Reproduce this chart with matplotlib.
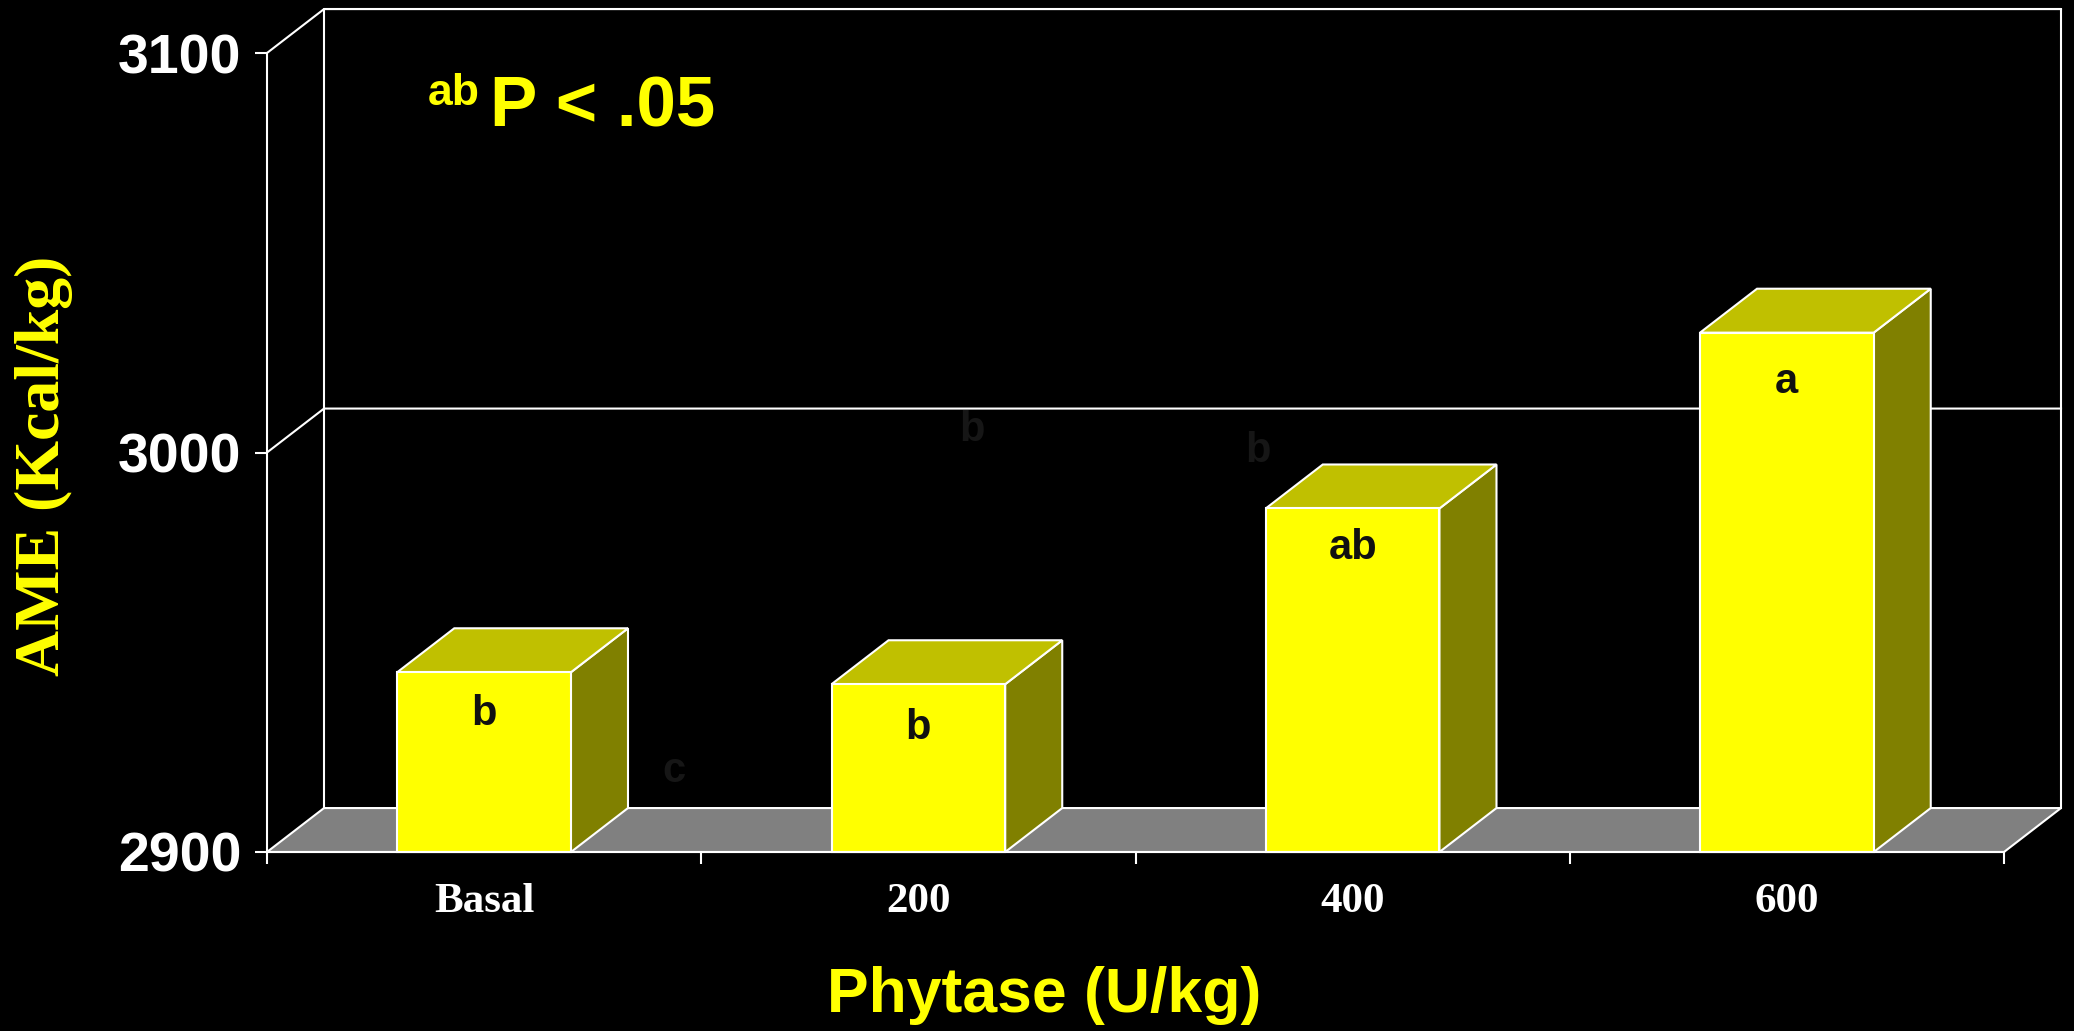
import matplotlib
matplotlib.use("Agg")
import matplotlib.pyplot as plt
from matplotlib.patches import Polygon

# ---------------- data ----------------
categories = ["Basal", "200", "400", "600"]
ame_values = [2945, 2942, 2986, 3030]
sig_letters = ["b", "b", "ab", "a"]
sig_letter_y = [2931.8, 2928.3, 2973.3, 3014.9]
ghost_letters = ["c", "b", "b"]
ghost_x = [0.938, 1.624, 2.281]
ghost_y = [2917.5, 3002.9, 2997.7]
ytick_values = [2900, 3000, 3100]
ytick_labels = ["2900", "3000", "3100"]

# ---------------- style ----------------
W, H, DPI = 2074, 1031, 100
SANS = "Liberation Sans"
SERIF = "Liberation Serif"
YMIN, YMAX = 2900, 3100
DDX, DDY = 0.1313, 11.0          # depth offset in data units
BAR_W = 0.40
LW = 1.5
FRONT, TOP, SIDE = "#FFFF00", "#C0C000", "#808000"
FLOOR = "#808080"

fig = plt.figure(figsize=(W / DPI, H / DPI), dpi=DPI, facecolor="black")
ax = fig.add_axes([267 / W, (H - 852) / H, (2004 - 267) / W, (852 - 53) / H])
ax.set_facecolor("none")
n = len(categories)
ax.set_xlim(0, n)
ax.set_ylim(YMIN, YMAX)

# floor
floor = Polygon([(0, YMIN), (n, YMIN), (n + DDX, YMIN + DDY), (DDX, YMIN + DDY)],
                closed=True, facecolor=FLOOR, edgecolor="white", lw=LW,
                clip_on=False, zorder=1)
ax.add_patch(floor)

# back wall outline and gridlines
ax.plot([DDX, DDX, n + DDX, n + DDX], [YMIN + DDY, YMAX + DDY, YMAX + DDY, YMIN + DDY],
        color="white", lw=LW, clip_on=False, zorder=1)
for yv in ytick_values[1:]:
    ax.plot([0, DDX, n + DDX], [yv, yv + DDY, yv + DDY],
            color="white", lw=LW, clip_on=False, zorder=1)

# bars
for i, v in enumerate(ame_values):
    c = i + 0.5
    l, r = c - BAR_W / 2, c + BAR_W / 2
    z = 3 + i
    side = Polygon([(r, YMIN), (r + DDX, YMIN + DDY), (r + DDX, v + DDY), (r, v)],
                   closed=True, facecolor=SIDE, edgecolor="white", lw=LW,
                   clip_on=False, zorder=z)
    top = Polygon([(l, v), (r, v), (r + DDX, v + DDY), (l + DDX, v + DDY)],
                  closed=True, facecolor=TOP, edgecolor="white", lw=LW,
                  clip_on=False, zorder=z)
    front = Polygon([(l, YMIN), (r, YMIN), (r, v), (l, v)],
                    closed=True, facecolor=FRONT, edgecolor="white", lw=LW,
                    clip_on=False, zorder=z + 0.5)
    for p in (side, top, front):
        ax.add_patch(p)
    ax.text(c, sig_letter_y[i], sig_letters[i], ha="center", va="baseline",
            fontsize=30, fontweight="bold", family=SANS, color="#111111",
            zorder=20, clip_on=False)

# faint leftover letters
for t, gx, gy in zip(ghost_letters, ghost_x, ghost_y):
    ax.text(gx, gy, t, ha="center", va="baseline", fontsize=30,
            fontweight="bold", family=SANS, color="#161616", zorder=2)

# spines and ticks
for s in ("top", "right"):
    ax.spines[s].set_visible(False)
for s in ("left", "bottom"):
    ax.spines[s].set_color("white")
    ax.spines[s].set_linewidth(LW)
    ax.spines[s].set_zorder(10)

ax.set_yticks(ytick_values)
ax.set_yticklabels(ytick_labels)
ax.tick_params(axis="y", colors="white", length=8.6, width=LW, pad=10,
               labelsize=40)
for lab in ax.get_yticklabels():
    lab.set_fontfamily(SANS)
    lab.set_fontweight("bold")

ax.set_xticks(range(n + 1))
ax.set_xticklabels([])
ax.set_xticks([i + 0.5 for i in range(n)], minor=True)
ax.set_xticklabels(categories, minor=True)
ax.tick_params(axis="x", which="major", colors="white", length=8.6, width=LW,
               direction="out")
ax.tick_params(axis="x", which="minor", length=0, pad=22, labelsize=31,
               labelcolor="white")
for lab in ax.get_xticklabels(minor=True):
    lab.set_fontfamily(SERIF)
    lab.set_fontweight("bold")

# annotation "abP < .05"
ax.text(0.371, 3087, "ab", ha="left", va="baseline", fontsize=32,
        fontweight="bold", family=SANS, color="#FFFF00", clip_on=False)
ax.text(0.514, 3081.5, "P < .05", ha="left", va="baseline", fontsize=51,
        fontweight="bold", family=SANS, color="#FFFF00", clip_on=False)

# axis titles
fig.text(44 / W, 1 - 466 / H, "AME (Kcal/kg)", rotation=90, ha="center",
         va="center", fontsize=46, fontweight="bold", family=SERIF,
         color="#FFFF00")
fig.text(1044 / W, 1 - 1012 / H, "Phytase (U/kg)", ha="center", va="baseline",
         fontsize=45, fontweight="bold", family=SANS, color="#FFFF00")

fig.savefig("out.png", dpi=DPI, facecolor="black")
